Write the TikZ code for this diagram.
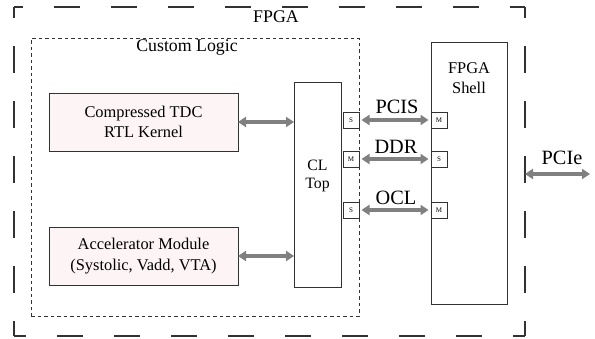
\documentclass[tikz,border=0pt]{standalone}
\usepackage{fontspec}
\setmainfont{Liberation Serif}
\usetikzlibrary{arrows.meta}
\definecolor{boxpink}{RGB}{253,245,245}
\definecolor{arrowgray}{RGB}{128,128,128}
\definecolor{edgegray}{RGB}{50,50,50}
\tikzset{
  outerbox/.style={inner sep=0pt, outer sep=0pt},
  hdash/.style={draw=edgegray, line width=1.2pt, dash pattern=on 26pt off 31pt, dash phase=#1},
  vdash/.style={draw=edgegray, line width=1.2pt, dash pattern=on 27pt off 28pt, dash phase=16pt},
  innerbox/.style={draw=edgegray, line width=1pt, dash pattern=on 3.5pt off 3pt,
    inner sep=0pt, outer sep=0pt},
  modbox/.style={draw=edgegray, line width=1pt, fill=boxpink, inner sep=0pt, outer sep=0pt,
    minimum width=189pt, minimum height=58pt, align=center,
    font=\fontsize{16.4}{20.5}\selectfont},
  plainbox/.style={draw=edgegray, line width=1pt, fill=white, inner sep=0pt, outer sep=0pt},
  portbox/.style={draw=edgegray, line width=0.9pt, fill=white, inner sep=0pt, outer sep=0pt,
    minimum width=16pt, minimum height=16pt, font=\fontsize{7}{8}\selectfont},
  biarrow/.style={draw=arrowgray, line width=3.3pt,
    {Triangle[length=8pt,width=10pt]}-{Triangle[length=8pt,width=10pt]}},
  biglabel/.style={inner sep=0pt, font=\fontsize{17.8}{20}\selectfont},
  buslabel/.style={inner sep=0pt, font=\fontsize{20.3}{22}\selectfont},
}
\begin{document}
\begin{tikzpicture}[x=1pt,y=-1pt]
\useasboundingbox (0,0) rectangle (595,338);
% outer FPGA region
\node[outerbox, minimum width=511pt, minimum height=329pt] (fpga) at (269.5,171.5) {};
\draw[hdash=17pt] (fpga.north west) -- (fpga.north east);
\draw[hdash=14pt] (fpga.south west) -- (fpga.south east);
\draw[vdash] (fpga.north west) -- (fpga.south west);
\draw[vdash] (fpga.north east) -- (fpga.south east);
\node[biglabel] (fpgalbl) at (276,17) {FPGA};
% custom logic region
\node[innerbox, minimum width=328pt, minimum height=278pt] (cl) at (195,177) {};
\node[biglabel] (cllbl) at (187,48) {Custom Logic};
% modules
\node[modbox] (tdc) at (143.5,122) {Compressed TDC\\RTL Kernel};
\node[modbox] (acc) at (143.5,256) {Accelerator Module\\(Systolic, Vadd, VTA)};
% CL top
\node[plainbox, minimum width=47pt, minimum height=205pt] (cltop) at (317.5,184.5) {};
\node[inner sep=0pt, align=center, font=\fontsize{15.8}{18}\selectfont] (cltoptxt) at (317.5,176) {CL\\Top};
% FPGA shell
\node[plainbox, minimum width=76pt, minimum height=262pt] (shell) at (469,173) {};
\node[inner sep=0pt, align=center, font=\fontsize{16.4}{20}\selectfont] (shelltxt) at (469,78) {FPGA\\Shell};
% ports
\node[portbox] (p1s) at (351,120) {S};
\node[portbox] (p2s) at (351,159) {M};
\node[portbox] (p3s) at (351,210) {S};
\node[portbox] (p1m) at (439,120) {M};
\node[portbox] (p2m) at (439,159) {S};
\node[portbox] (p3m) at (439,210) {M};
% bus labels
\node[buslabel] (pcislbl) at (397,107) {PCIS};
\node[buslabel] (ddrlbl) at (396,147) {DDR};
\node[buslabel] (ocllbl) at (396,198) {OCL};
\node[buslabel] (pcielbl) at (562,158) {PCIe};
% connectors
\draw[biarrow] (tdc.east) -- (tdc.east -| cltop.west);
\draw[biarrow] (acc.east) -- (acc.east -| cltop.west);
\draw[biarrow, shorten <=2.5pt, shorten >=2.5pt] (p1s.east) -- (p1m.west);
\draw[biarrow, shorten <=2.5pt, shorten >=2.5pt] (p2s.east) -- (p2m.west);
\draw[biarrow, shorten <=2.5pt, shorten >=2.5pt] (p3s.east) -- (p3m.west);
\coordinate (pcieend) at (590,174);
\draw[biarrow] (fpga.east |- pcieend) -- (pcieend);
\end{tikzpicture}
\end{document}
